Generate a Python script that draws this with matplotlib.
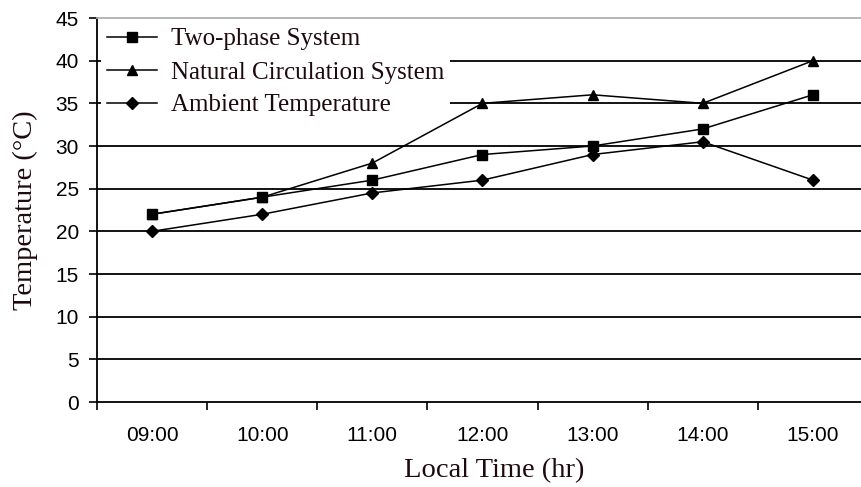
import matplotlib
matplotlib.use('Agg')
import matplotlib.pyplot as plt

# data
times = ['09:00', '10:00', '11:00', '12:00', '13:00', '14:00', '15:00']
two_phase = [22, 24, 26, 29, 30, 32, 36]
natural = [22, 24, 28, 35, 36, 35, 40]
ambient = [20, 22, 24.5, 26, 29, 30.5, 26]
y_ticks = [0, 5, 10, 15, 20, 25, 30, 35, 40, 45]

serif = ['Liberation Serif', 'DejaVu Serif']
sans = ['Liberation Sans', 'DejaVu Sans']
txt_col = '#1e0a0e'

fig = plt.figure(figsize=(8.61, 4.87), dpi=100)
ax = fig.add_axes([97 / 861, 85 / 487, 771 / 861, 384 / 487])

x = list(range(len(times)))
ax.plot(x, two_phase, color='black', lw=1.1, marker='s', ms=7.5,
        label='Two-phase System', zorder=3)
ax.plot(x, natural, color='black', lw=1.1, marker='^', ms=7.5,
        label='Natural Circulation System', zorder=3)
ax.plot(x, ambient, color='black', lw=1.1, marker='D', ms=6,
        label='Ambient Temperature', zorder=3)

ax.set_xlim(-0.5, len(times) - 0.5)
ax.set_ylim(0, 45)
ax.set_yticks(y_ticks)
ax.set_yticklabels([str(v) for v in y_ticks], family=sans, fontsize=15)
ax.set_xticks(x)
ax.set_xticklabels(times, family=sans, fontsize=15)
ax.set_xticks([i - 0.5 for i in range(len(times) + 1)], minor=True)
ax.tick_params(axis='x', which='major', length=0, pad=17)
ax.tick_params(axis='x', which='minor', length=6, width=1.2, direction='out')
ax.tick_params(axis='y', length=6, width=1.2, direction='out', pad=7)

# horizontal gridlines
for v in y_ticks[1:-1]:
    ax.axhline(v, color='black', lw=1.3, zorder=1)

ax.spines['right'].set_visible(False)
ax.spines['top'].set_color('#b0b0b0')
ax.spines['top'].set_linewidth(1.3)
ax.spines['left'].set_linewidth(1.3)
ax.spines['bottom'].set_linewidth(1.3)

ax.set_ylabel('Temperature (°C)', family=serif, fontsize=20.5, color=txt_col,
              labelpad=13)
ax.set_xlabel('Local Time (hr)', family=serif, fontsize=20.5, color=txt_col)
ax.xaxis.set_label_coords(0.515, -0.145)

leg = ax.legend(loc='upper left', bbox_to_anchor=(0.0, 1.0),
                prop={'family': serif, 'size': 18},
                frameon=True, fancybox=False, framealpha=1,
                edgecolor='none', facecolor='white',
                handlelength=2.0, handletextpad=0.55, labelspacing=0.42,
                borderpad=0.25, borderaxespad=0.15)
leg.set_zorder(2)
for t in leg.get_texts():
    t.set_color(txt_col)

fig.savefig('out.png', dpi=100)
